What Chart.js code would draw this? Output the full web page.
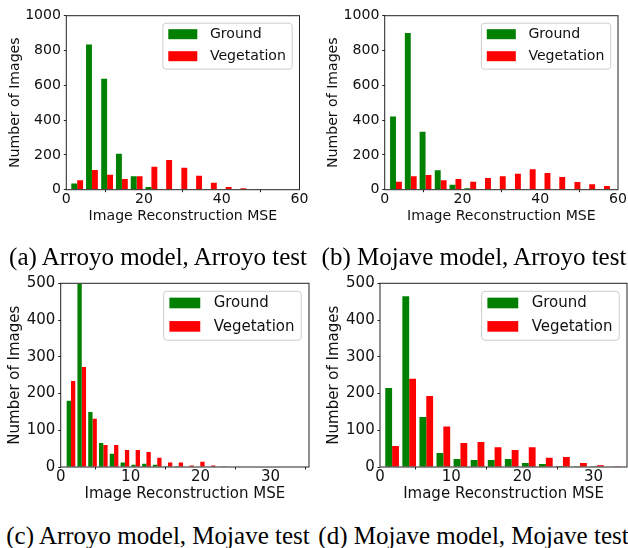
<!DOCTYPE html>
<html><head><meta charset="utf-8">
<script src="https://cdn.jsdelivr.net/npm/chart.js@4.4.0/dist/chart.umd.min.js"></script>
<style>
html,body{margin:0;padding:0;background:#fff;overflow:hidden;width:628px;height:548px;}
canvas{position:absolute;}
.cap{position:absolute;width:330px;text-align:center;font-family:"Liberation Serif","Times New Roman",serif;font-size:25px;line-height:1;white-space:nowrap;color:#000;}
</style></head><body>
<canvas id="ca" width="314" height="230" style="left:0px;top:0px"></canvas>
<canvas id="cb" width="314" height="230" style="left:314px;top:0px"></canvas>
<canvas id="cc" width="314" height="240" style="left:0px;top:270px"></canvas>
<canvas id="cd" width="314" height="240" style="left:314px;top:270px"></canvas>
<div class="cap" style="left:-7px;top:244px">(a) Arroyo model, Arroyo test</div>
<div class="cap" style="left:309px;top:244px">(b) Mojave model, Arroyo test</div>
<div class="cap" style="left:-7px;top:522.5px">(c) Arroyo model, Mojave test</div>
<div class="cap" style="left:308.5px;top:522.5px">(d) Mojave model, Mojave test</div>
<script>
// ---- data ----
const seriesNames = ['Ground', 'Vegetation'];
const xTitle = 'Image Reconstruction MSE';
const yTitle = 'Number of Images';

// (a) Arroyo model, Arroyo test
const binsA = [2.8, 6.6, 10.5, 14.3, 18.1, 21.9, 25.7, 29.6, 33.4, 37.2, 41.0, 44.8, 48.7, 52.5, 56.3];
const groundA = [35, 834, 637, 206, 78, 15, 2, 2, 0, 2, 0, 0, 0, 0, 0];
const vegA = [55, 113, 86, 62, 78, 132, 170, 126, 80, 40, 15, 9, 4, 2, 2];
// (b) Mojave model, Arroyo test
const binsB = [2.9, 6.7, 10.5, 14.4, 18.2, 22.0, 25.8, 29.6, 33.5, 37.3, 41.1, 44.9, 48.8, 52.6, 56.4];
const groundB = [421, 900, 333, 112, 28, 9, 2, 2, 1, 2, 0, 0, 0, 0, 0];
const vegB = [45, 78, 85, 55, 62, 45, 67, 78, 91, 118, 96, 73, 44, 32, 21];
// (c) Arroyo model, Mojave test
const binsC = [1.47, 3.01, 4.55, 6.09, 7.63, 9.18, 10.72, 12.26, 13.8, 15.34, 16.88, 18.42, 19.96, 21.5, 23.05];
const groundC = [180, 498, 150, 65, 36, 12, 6, 9, 6, 2, 1, 0, 0, 0, 0];
const vegC = [234, 272, 131, 60, 60, 46, 46, 41, 25, 12, 12, 4, 14, 4, 1];
// (d) Mojave model, Mojave test
const binsD = [1.7, 4.1, 6.5, 8.9, 11.3, 13.7, 16.1, 18.5, 20.9, 23.3, 25.7, 28.1, 30.5, 32.9];
const groundD = [215, 465, 136, 38, 22, 19, 19, 22, 11, 8, 3, 1, 2, 0];
const vegD = [57, 240, 193, 110, 65, 68, 54, 46, 54, 25, 27, 11, 5, 1];

const xTicks60 = [0, 20, 40, 60];
const xTicks35 = [0, 10, 20, 30];
const yTicks1000 = [0, 200, 400, 600, 800, 1000];
const yTicks500 = [0, 100, 200, 300, 400, 500];

// ---- styling ----
const FAMILY = '"DejaVu Sans", sans-serif';
const INK = '#111';
const colors = ['#008000', '#ff0000'];

const framePlugin = {
  id: 'frame',
  afterDatasetsDraw(chart) {
    const {ctx, chartArea: a} = chart;
    ctx.save();
    ctx.strokeStyle = '#222';
    ctx.lineWidth = 1;
    ctx.strokeRect(a.left, a.top, a.right - a.left, a.bottom - a.top);
    ctx.restore();
  }
};

const innerLegend = {
  id: 'innerLegend',
  afterDraw(chart, args, opts) {
    const {ctx, chartArea: a} = chart;
    const fs = opts.fs, s = fs / 14.1;
    ctx.save();
    ctx.font = fs + 'px ' + FAMILY;
    const ds = chart.data.datasets;
    let tw = 0;
    ds.forEach(d => { tw = Math.max(tw, ctx.measureText(d.label).width); });
    const w = 5.4 * s + 29 * s + 12.6 * s + tw + 6.3 * s;
    const h = 46 * s;
    const right = a.right - 7.3 * s;
    const top = a.top + 7.5 * s;
    const left = right - w;
    const r = 3 * s;
    ctx.beginPath();
    ctx.moveTo(left + r, top);
    ctx.lineTo(right - r, top);
    ctx.arcTo(right, top, right, top + r, r);
    ctx.lineTo(right, top + h - r);
    ctx.arcTo(right, top + h, right - r, top + h, r);
    ctx.lineTo(left + r, top + h);
    ctx.arcTo(left, top + h, left, top + h - r, r);
    ctx.lineTo(left, top + r);
    ctx.arcTo(left, top, left + r, top, r);
    ctx.closePath();
    ctx.fillStyle = 'rgba(255,255,255,0.8)';
    ctx.fill();
    ctx.strokeStyle = '#cccccc';
    ctx.lineWidth = 1;
    ctx.stroke();
    ds.forEach((d, i) => {
      const cy = top + 11 * s + i * 22 * s;
      ctx.fillStyle = d.backgroundColor;
      ctx.fillRect(left + 5.4 * s, cy - 5 * s, 29 * s, 10 * s);
      ctx.fillStyle = INK;
      ctx.textBaseline = 'middle';
      ctx.textAlign = 'left';
      ctx.fillText(d.label, left + 5.4 * s + 29 * s + 12.6 * s, cy + 0.5);
    });
    ctx.restore();
  }
};

function makePanel(id, bins, ground, veg, xMax, xTicks, yMax, yTicks, g) {
  const fs = g.fs;
  const yW = g.left - g.ox;
  const xH = g.oy + g.H - g.bottom;
  const padTop = g.top - g.oy;
  const padRight = g.ox + g.W - g.right;
  const lh = fs * 1.2;
  const yTitlePad = g.yTitleX - g.ox - lh / 2;
  const xTitlePad = g.oy + g.H - g.xTitleY - lh / 2;
  const series = [ground, veg];
  new Chart(document.getElementById(id), {
    type: 'bar',
    data: {
      datasets: series.map((vals, k) => ({
        label: seriesNames[k],
        data: bins.map((x, i) => ({x: x, y: vals[i]})),
        backgroundColor: colors[k],
        borderWidth: 0,
        barPercentage: 1.0,
        categoryPercentage: 0.8,
        grouped: true
      }))
    },
    options: {
      responsive: false,
      animation: false,
      events: [],
      layout: {padding: {left: 0, top: padTop, right: padRight, bottom: 0}},
      plugins: {
        legend: {display: false},
        tooltip: {enabled: false},
        innerLegend: {fs: fs}
      },
      scales: {
        x: {
          type: 'linear', min: 0, max: xMax, offset: false,
          afterBuildTicks: sc => { sc.ticks = xTicks.map(v => ({value: v})); },
          afterFit: sc => { sc.height = xH; },
          grid: {drawOnChartArea: false, drawTicks: true, tickLength: 2.5, color: '#222', lineWidth: 1},
          border: {display: false},
          ticks: {font: {family: FAMILY, size: fs, lineHeight: 1}, color: INK, padding: 0.5, maxRotation: 0, autoSkip: false,
                  callback: v => String(v)},
          title: {display: true, text: xTitle, color: INK, font: {family: FAMILY, size: fs}, padding: {top: 0, bottom: xTitlePad}}
        },
        y: {
          type: 'linear', min: 0, max: yMax,
          afterBuildTicks: sc => { sc.ticks = yTicks.map(v => ({value: v})); },
          afterFit: sc => { sc.width = yW; },
          grid: {drawOnChartArea: false, drawTicks: true, tickLength: 2.5, color: '#222', lineWidth: 1},
          border: {display: false},
          ticks: {font: {family: FAMILY, size: fs}, color: INK, padding: 2.8, autoSkip: false,
                  callback: v => String(v)},
          title: {display: true, text: yTitle, color: INK, font: {family: FAMILY, size: fs}, padding: {top: yTitlePad, bottom: 0}}
        }
      }
    },
    plugins: [framePlugin, innerLegend]
  });
}

makePanel('ca', binsA, groundA, vegA, 60, xTicks60, 1000, yTicks1000,
  {ox: 0, oy: 0, W: 314, H: 230, left: 66.3, right: 299.5, top: 15.7, bottom: 189.7, yTitleX: 15, xTitleY: 216, fs: 14.1});
makePanel('cb', binsB, groundB, vegB, 60, xTicks60, 1000, yTicks1000,
  {ox: 314, oy: 0, W: 314, H: 230, left: 384.7, right: 618, top: 15.7, bottom: 189.7, yTitleX: 333.7, xTitleY: 216, fs: 14.1});
makePanel('cc', binsC, groundC, vegC, 35.5, xTicks35, 500, yTicks500,
  {ox: 0, oy: 270, W: 314, H: 240, left: 60.7, right: 309, top: 283.3, bottom: 467, yTitleX: 15.5, xTitleY: 494.5, fs: 15});
makePanel('cd', binsD, groundD, vegD, 34.7, xTicks35, 500, yTicks500,
  {ox: 314, oy: 270, W: 314, H: 240, left: 380, right: 627, top: 283.3, bottom: 467, yTitleX: 334, xTitleY: 494.5, fs: 15});
</script>
</body></html>
